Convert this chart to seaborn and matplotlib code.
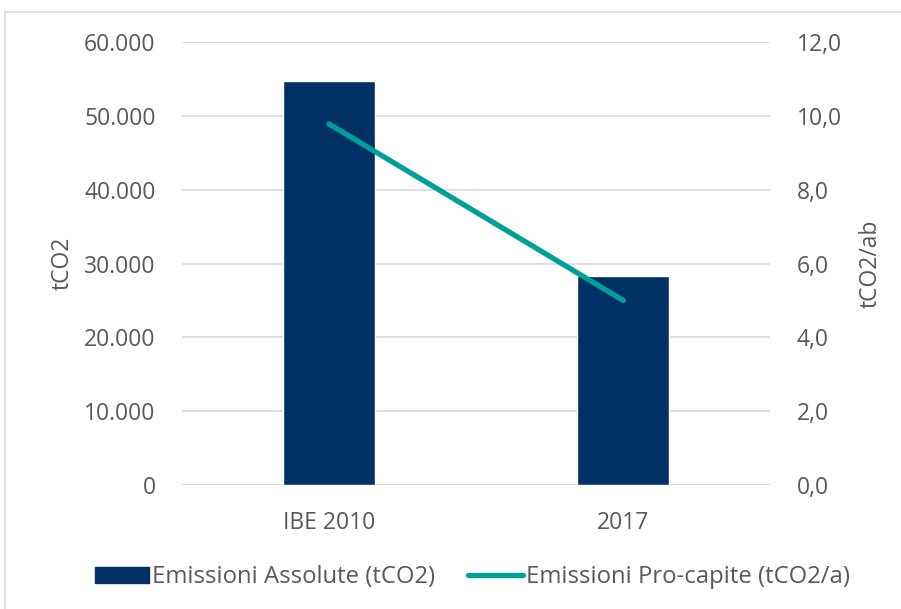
import matplotlib
matplotlib.use("Agg")
import matplotlib.pyplot as plt
import matplotlib.patches as mpatches
import matplotlib.lines as mlines
from matplotlib.ticker import FuncFormatter, MultipleLocator
import pandas as pd
import seaborn as sns

# Data
categories = ["IBE 2010", "2017"]
emissioni_assolute = [54700, 28300]      # tCO2
emissioni_procapite = [9.78, 5.0]       # tCO2/ab

df = pd.DataFrame({"anno": categories,
                   "assolute": emissioni_assolute,
                   "procapite": emissioni_procapite})

sns.set_theme(style="white")
plt.rcParams["font.family"] = ["Open Sans", "DejaVu Sans"]

BAR = "#003064"
LINE = "#00A09A"
TXT = "#595959"
GRID = "#D9D9D9"
FS = 16.5

fig = plt.figure(figsize=(9.01, 6.09), dpi=100)
ax = fig.add_axes([0.202, 0.2036, 0.653, 0.7274])

sns.barplot(data=df, x="anno", y="assolute", color=BAR, width=0.313,
            saturation=1, ax=ax, zorder=3)
ax.set_ylim(0, 60000)
ax.yaxis.set_major_locator(MultipleLocator(10000))
ax.yaxis.set_major_formatter(FuncFormatter(lambda v, p: f"{int(v):,}".replace(",", ".")))
ax.grid(axis="y", color=GRID, linewidth=1.2, zorder=0)
ax.set_axisbelow(True)
for s in ax.spines.values():
    s.set_visible(False)
ax.set_xlabel("")
ax.set_ylabel("tCO2", fontsize=FS, color=TXT, labelpad=7)
ax.tick_params(axis="y", length=0, pad=19, labelsize=FS, labelcolor=TXT)
ax.tick_params(axis="x", length=0, pad=19, labelsize=FS, labelcolor=TXT)

ax2 = ax.twinx()
sns.pointplot(data=df, x="anno", y="procapite", color=LINE, markers="",
              linestyles="-", linewidth=3.8, ax=ax2, zorder=4)
for l in ax2.lines:
    l.set_solid_capstyle("round")
ax2.set_ylim(0, 12)
ax2.yaxis.set_major_locator(MultipleLocator(2))
ax2.yaxis.set_major_formatter(FuncFormatter(lambda v, p: f"{v:.1f}".replace(".", ",")))
for s in ax2.spines.values():
    s.set_visible(False)
ax2.grid(False)
ax2.set_xlabel("")
ax2.set_ylabel("tCO2/ab", fontsize=FS, color=TXT, labelpad=12)
ax2.tick_params(axis="y", length=0, pad=19, labelsize=FS, labelcolor=TXT)
ax.set_xlim(-0.5, 1.5)
ax2.set_xlim(-0.5, 1.5)
ax.set_xticks(range(len(categories)))
ax.set_xticklabels(categories)

# bottom baseline
ax.axhline(0, color=GRID, linewidth=1.2, zorder=1)

# legend
h1 = mpatches.Patch(color=BAR, label="Emissioni Assolute (tCO2)")
h2 = mlines.Line2D([], [], color=LINE, linewidth=3.8, solid_capstyle="round",
                   label="Emissioni Pro-capite (tCO2/a)")
leg = fig.legend(handles=[h1, h2], loc="center", bbox_to_anchor=(0.524, 0.052),
                 ncol=2, frameon=False, fontsize=17.2, handlelength=2.3,
                 handleheight=0.62, handletextpad=0.1, columnspacing=1.4)
for t in leg.get_texts():
    t.set_color(TXT)

# chart frame
fig.patches.append(mpatches.Rectangle((5 / 901, -0.01), 1.0, 1 - 12 / 609 + 0.01,
                                      transform=fig.transFigure, fill=False,
                                      edgecolor="#D9D9D9", linewidth=1.2))

fig.savefig("out.png", dpi=100)
